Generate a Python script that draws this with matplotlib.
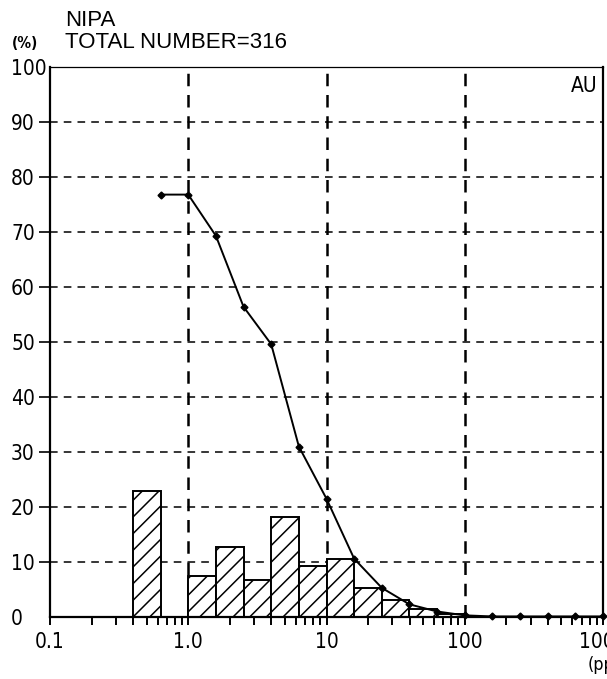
import matplotlib
matplotlib.use('Agg')
import matplotlib.pyplot as plt
from matplotlib.ticker import FixedLocator, LogLocator, NullFormatter

plt.rcParams['hatch.linewidth'] = 1.1

# ---- data ----
bin_edges = [0.398, 0.631, 1.0, 1.585, 2.512, 3.981, 6.310, 10.0,
             15.85, 25.12, 39.81, 63.10, 100.0]
freq_pct = [23.0, 0.0, 7.4, 12.8, 6.8, 18.2, 9.3, 10.6, 5.2, 3.1, 1.4, 0.6]

cum_x = [0.631, 1.0, 1.585, 2.512, 3.981, 6.310, 10.0, 15.85, 25.12,
         39.81, 63.10, 100.0, 158.5, 251.2, 398.1, 631.0, 1000.0]
cum_pct = [76.8, 76.8, 69.3, 56.4, 49.6, 31.0, 21.5, 10.6, 5.3,
           2.3, 1.0, 0.3, 0.1, 0.1, 0.1, 0.1, 0.1]

x_ticks = [0.1, 1.0, 10, 100, 1000]
x_ticklabels = ['0.1', '1.0', '10', '100', '1000']
y_ticks = [0, 10, 20, 30, 40, 50, 60, 70, 80, 90, 100]

NARROW = dict(family='DejaVu Sans', stretch='condensed')
REG = ['Liberation Sans', 'DejaVu Sans']

W, H = 607, 679
fig = plt.figure(figsize=(W / 100, H / 100), dpi=100, facecolor='white')
ax = fig.add_axes([50 / W, 1 - 617 / H, 553 / W, 550 / H])
ax.set_xscale('log')
ax.set_xlim(0.1, 1000)
ax.set_ylim(0, 100)

# grid
for yv in y_ticks[1:-1]:
    ax.axhline(yv, color='black', lw=1.1, ls=(0, (5, 4)), zorder=1)
for xv in [1.0, 10, 100]:
    ax.axvline(xv, color='black', lw=1.8, ls=(0, (5, 3.5)), zorder=1)

# histogram
lefts = bin_edges[:-1]
widths = [b - a for a, b in zip(bin_edges[:-1], bin_edges[1:])]
ax.bar(lefts, freq_pct, width=widths, align='edge', facecolor='white',
       edgecolor='black', linewidth=1.4, hatch='//', zorder=2)

# cumulative line
ax.plot(cum_x, cum_pct, color='black', lw=1.4, marker='D', markersize=3.5,
        zorder=3, clip_on=False)

# spines
for s in ['left', 'bottom', 'right']:
    ax.spines[s].set_linewidth(1.6)
ax.spines['top'].set_linewidth(0.9)

ax.xaxis.set_major_locator(FixedLocator(x_ticks))
ax.set_xticklabels(x_ticklabels, fontsize=15, **NARROW)
ax.xaxis.set_minor_locator(LogLocator(base=10, subs=range(2, 10)))
ax.xaxis.set_minor_formatter(NullFormatter())
ax.tick_params(axis='x', which='both', direction='out', length=6, width=1.4,
               pad=5, top=False)

# y labels are left aligned in the original
ax.set_yticks(y_ticks)
ax.set_yticklabels([str(v) for v in y_ticks], fontsize=15, ha='left', **NARROW)
ax.tick_params(axis='y', direction='out', length=8, width=1.2, pad=20,
               right=False)
yt = ax.yaxis.get_major_ticks()
yt[0].tick1line.set_visible(False)
yt[-1].tick1line.set_visible(False)

# texts
fig.text(65 / W, 1 - 20 / H, 'NIPA', family=REG, fontsize=16,
         ha='left', va='center')
fig.text(65 / W, 1 - 43 / H, 'TOTAL NUMBER=316', family=REG, fontsize=16,
         ha='left', va='center')
fig.text(12 / W, 1 - 43 / H, '(%)', fontsize=11, fontweight='bold',
         ha='left', va='center', **NARROW)
fig.text(597 / W, 1 - 86 / H, 'AU', fontsize=15, ha='right', va='center',
         **NARROW)
fig.text(588 / W, 1 - 665 / H, '(ppm)', fontsize=13, ha='left', va='center',
         **NARROW)

fig.savefig('out.png', dpi=100, facecolor='white')
